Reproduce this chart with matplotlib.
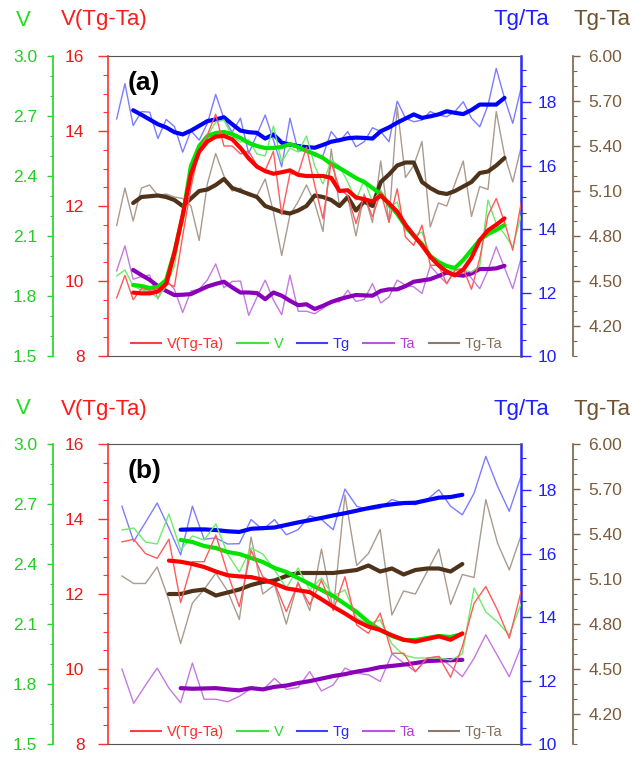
import matplotlib
matplotlib.use("Agg")
import matplotlib.pyplot as plt
from matplotlib.ticker import MultipleLocator, FixedLocator, FormatStrFormatter
import numpy as np

plt.rcParams['font.family'] = ['Liberation Sans', 'DejaVu Sans']

# ---------------- data ----------------
years = list(range(1960, 2010))

tg_thin = [17.47, 18.58, 17.26, 17.70, 17.68, 16.85, 17.45, 17.23, 16.42, 17.10,
           16.80, 17.33, 18.24, 17.48, 17.05, 17.49, 16.38, 16.98, 17.59, 16.80,
           15.96, 17.49, 16.45, 16.49, 16.30, 16.31, 17.07, 16.75, 17.07, 16.59,
           16.75, 17.19, 17.07, 16.75, 18.03, 17.49, 17.38, 17.43, 17.70, 17.59,
           17.54, 17.70, 18.01, 17.49, 17.22, 17.90, 19.06, 18.12, 17.33, 18.43]

ta_thin = [12.68, 13.47, 12.42, 12.50, 12.55, 11.80, 12.40, 12.10, 11.37, 12.05,
           12.10, 12.40, 12.90, 12.15, 12.35, 12.36, 11.28, 11.85, 12.39, 11.76,
           11.30, 12.55, 11.41, 11.41, 11.33, 11.50, 11.75, 11.70, 12.07, 11.72,
           11.78, 12.28, 11.67, 11.86, 12.39, 12.23, 12.18, 11.97, 12.84, 12.55,
           12.28, 12.70, 12.76, 12.45, 12.12, 12.70, 13.44, 12.78, 12.12, 13.07]

dt_thin = [4.87, 5.12, 4.90, 5.12, 5.14, 5.07, 5.08, 5.06, 5.05, 5.00,
           4.77, 5.15, 5.35, 5.20, 5.10, 5.12, 5.07, 5.07, 5.18, 4.96,
           4.67, 4.94, 5.03, 5.14, 5.02, 4.83, 5.38, 5.00, 5.06, 4.80,
           5.08, 4.89, 5.30, 4.89, 5.66, 5.19, 5.27, 5.43, 4.86, 5.02,
           5.00, 5.15, 5.30, 4.93, 5.13, 5.11, 5.63, 5.34, 5.16, 5.39]

vdt_thin = [9.55, 10.15, 9.50, 9.80, 9.75, 9.80, 9.95, 9.85, 11.20, 12.50,
            13.50, 13.90, 14.45, 13.60, 13.60, 13.39, 13.46, 13.08, 12.95, 13.46,
            11.77, 12.86, 12.86, 13.57, 12.55, 11.66, 13.17, 12.46, 12.28, 11.53,
            12.28, 11.71, 12.37, 11.57, 12.46, 11.17, 10.95, 11.49, 10.42, 10.42,
            9.93, 10.29, 10.33, 9.78, 10.60, 11.75, 12.20, 11.57, 10.82, 12.06]

v_thin = [1.90, 1.93, 1.85, 1.83, 1.82, 1.79, 1.85, 1.95, 2.20, 2.45,
          2.55, 2.60, 2.67, 2.68, 2.60, 2.57, 2.58, 2.51, 2.50, 2.65,
          2.47, 2.54, 2.52, 2.60, 2.45, 2.36, 2.48, 2.45, 2.37, 2.28,
          2.38, 2.27, 2.33, 2.24, 2.27, 2.13, 2.10, 2.12, 2.00, 1.945,
          1.93, 1.93, 1.93, 1.92, 1.95, 2.28, 2.16, 2.11, 2.045, 2.20]

# panel (a) smoothed curves, 1962-2007
years_sm_a = list(range(1962, 2008))
vdt_sm_a = [9.69, 9.67, 9.67, 9.72, 9.92, 10.75, 11.75, 12.85, 13.45, 13.72,
            13.85, 13.87, 13.78, 13.55, 13.27, 13.05, 12.93, 12.86, 12.90, 12.95,
            12.83, 12.80, 12.80, 12.80, 12.75, 12.40, 12.42, 12.23, 12.18, 12.12,
            12.28, 12.07, 11.85, 11.50, 11.22, 10.95, 10.65, 10.42, 10.25, 10.15,
            10.30, 10.62, 11.09, 11.35, 11.50, 11.67]
v_sm_a = [1.855, 1.85, 1.84, 1.845, 1.88, 2.02, 2.20, 2.45, 2.55, 2.60,
          2.615, 2.62, 2.61, 2.59, 2.565, 2.55, 2.54, 2.54, 2.545, 2.56,
          2.545, 2.525, 2.51, 2.49, 2.46, 2.44, 2.415, 2.39, 2.37, 2.34,
          2.31, 2.26, 2.21, 2.15, 2.10, 2.06, 2.00, 1.97, 1.95, 1.94,
          1.98, 2.03, 2.08, 2.11, 2.13, 2.155]
tg_sm_a = [17.74, 17.60, 17.45, 17.30, 17.20, 17.05, 16.98, 17.10, 17.25, 17.40,
           17.45, 17.52, 17.30, 17.10, 17.05, 17.03, 16.85, 16.98, 16.72, 16.66,
           16.61, 16.58, 16.56, 16.65, 16.75, 16.80, 16.86, 16.88, 16.87, 16.85,
           17.08, 17.20, 17.35, 17.48, 17.61, 17.50, 17.55, 17.61, 17.71, 17.66,
           17.62, 17.75, 17.92, 17.92, 17.92, 18.13]
ta_sm_a = [12.71, 12.55, 12.40, 12.20, 12.05, 11.92, 11.93, 11.95, 12.07, 12.19,
           12.27, 12.34, 12.16, 12.00, 12.00, 11.98, 11.79, 12.00, 11.90, 11.74,
           11.60, 11.63, 11.48, 11.58, 11.70, 11.79, 11.86, 11.92, 11.91, 11.90,
           12.05, 12.10, 12.10, 12.20, 12.34, 12.38, 12.42, 12.52, 12.63, 12.56,
           12.53, 12.60, 12.74, 12.74, 12.76, 12.84]
dt_sm_a = [5.02, 5.06, 5.065, 5.07, 5.06, 5.04, 5.00, 5.05, 5.10, 5.11,
           5.14, 5.18, 5.12, 5.10, 5.08, 5.06, 5.00, 4.98, 4.96, 4.95,
           4.97, 5.00, 5.07, 5.06, 5.04, 5.00, 5.06, 4.97, 5.03, 5.00,
           5.16, 5.21, 5.27, 5.29, 5.29, 5.16, 5.12, 5.09, 5.08, 5.10,
           5.13, 5.16, 5.22, 5.23, 5.27, 5.32]

# panel (b) smoothed curves: V, Tg, Ta 1980-2004; V(Tg-Ta), Tg-Ta 1979-2004
years_sm_b = list(range(1980, 2005))
years_sm_b_long = list(range(1979, 2005))
vdt_sm_b = [12.89, 12.86, 12.80, 12.72, 12.60, 12.50, 12.47, 12.45, 12.38, 12.28,
            12.15, 12.10, 12.05, 11.86, 11.66, 11.48, 11.28, 11.13, 11.04, 10.90,
            10.78, 10.73, 10.80, 10.87, 10.78, 10.95]
v_sm_b = [2.52, 2.51, 2.49, 2.48, 2.46, 2.45, 2.43, 2.41, 2.38, 2.36,
          2.33, 2.30, 2.27, 2.24, 2.20, 2.16, 2.11, 2.07, 2.04, 2.02,
          2.02, 2.03, 2.04, 2.035, 2.05]
tg_sm_b = [16.75, 16.76, 16.76, 16.74, 16.70, 16.68, 16.78, 16.80, 16.82, 16.90,
           16.98, 17.05, 17.12, 17.20, 17.27, 17.35, 17.43, 17.50, 17.55, 17.59,
           17.60, 17.68, 17.76, 17.78, 17.85]
ta_sm_b = [11.76, 11.74, 11.75, 11.76, 11.72, 11.69, 11.76, 11.72, 11.80, 11.84,
           11.92, 11.98, 12.06, 12.14, 12.20, 12.28, 12.34, 12.42, 12.46, 12.50,
           12.55, 12.61, 12.63, 12.64, 12.65]
dt_sm_b = [5.00, 5.00, 5.02, 5.03, 4.99, 5.01, 5.03, 5.06, 5.08, 5.09, 5.12,
           5.14, 5.14, 5.14, 5.14, 5.15, 5.16, 5.19, 5.15, 5.17, 5.13,
           5.16, 5.17, 5.17, 5.15, 5.20]

xtick_labels_a = ['1960', '1970', '1980', '1990', '2000', '2009']
xtick_labels_b = ['1975', '1980', '1985', '1990', '1995', '2000', '2005', '2009']
legend_labels = ['V(Tg-Ta)', 'V', 'Tg', 'Ta', 'Tg-Ta']

# ---------------- style ----------------
C_RED, C_RED_T = '#ff0000', '#ff5a5a'
C_GRN, C_GRN_T = '#00e400', '#6cec6c'
C_BLU, C_BLU_T = '#0000ff', '#7c7cff'
C_PUR, C_PUR_T = '#8a00b8', '#c47ae0'
C_BRN, C_BRN_T = '#4e3219', '#a99b8e'
C_AX_RED, C_AX_GRN, C_AX_BLU, C_AX_BRN = '#ff3030', '#22d622', '#2a2aff', '#7d6146'

W, H = 634, 776
fig = plt.figure(figsize=(W / 100, H / 100), dpi=100)

PX2PT = 0.72


def frac_rect(x0, y_top, x1, y_bot):
    return [x0 / W, 1 - y_bot / H, (x1 - x0) / W, (y_bot - y_top) / H]


def panel(rect, yrs, first_year, xlim, xticks, xticklabels, ys, sm, label, title_y):
    i0 = yrs.index(first_year)
    xs = yrs[i0:]
    axt = fig.add_axes(rect)            # brown Tg-Ta (far right)
    axb = axt.twinx()                   # blue Tg / Ta
    axg = axt.twinx()                   # green V (far left)
    axr = axt.twinx()                   # red V(Tg-Ta)
    for a in (axt, axb, axg, axr):
        a.set_xlim(*xlim)
        a.patch.set_visible(False)
        for s in a.spines.values():
            s.set_visible(False)

    # thin annual lines
    l_dt, = axt.plot(xs, ys['dt'][i0:], color=C_BRN_T, lw=1.0)
    l_tg, = axb.plot(xs, ys['tg'][i0:], color=C_BLU_T, lw=1.0)
    l_ta, = axb.plot(xs, ys['ta'][i0:], color=C_PUR_T, lw=1.0)
    l_v, = axg.plot(xs, ys['v'][i0:], color=C_GRN_T, lw=1.0)
    l_vdt, = axr.plot(xs, ys['vdt'][i0:], color=C_RED_T, lw=1.0)
    # thick smoothed lines
    axt.plot(sm['years_rb'], sm['dt'], color=C_BRN, lw=3.0, solid_capstyle='round')
    axb.plot(sm['years'], sm['tg'], color=C_BLU, lw=3.0, solid_capstyle='round')
    axb.plot(sm['years'], sm['ta'], color=C_PUR, lw=3.0, solid_capstyle='round')
    axg.plot(sm['years'], sm['v'], color=C_GRN, lw=3.0, solid_capstyle='round')
    axr.plot(sm['years_rb'], sm['vdt'], color=C_RED, lw=3.0, solid_capstyle='round')

    # red axis (left, at frame)
    axr.set_ylim(8, 16)
    axr.yaxis.set_ticks_position('left')
    axr.spines['left'].set_visible(True)
    axr.spines['left'].set_color(C_AX_RED)
    axr.spines['left'].set_linewidth(1.2)
    axr.yaxis.set_major_locator(MultipleLocator(2))
    axr.yaxis.set_minor_locator(MultipleLocator(0.5))
    axr.tick_params(axis='y', which='major', length=7, width=1, color=C_AX_RED,
                    labelcolor='#f01818', labelsize=12.5, pad=10)
    axr.tick_params(axis='y', which='minor', length=3.5, width=0.8, color=C_AX_RED)

    # green axis (left, offset)
    axg.set_ylim(1.5, 3.0)
    axg.yaxis.set_ticks_position('left')
    axg.spines['left'].set_visible(True)
    axg.spines['left'].set_position(('outward', 55 * PX2PT))
    axg.spines['left'].set_color(C_AX_GRN)
    axg.spines['left'].set_linewidth(1.2)
    axg.yaxis.set_major_locator(FixedLocator([1.5, 1.8, 2.1, 2.4, 2.7, 3.0]))
    axg.yaxis.set_minor_locator(MultipleLocator(0.1))
    axg.yaxis.set_major_formatter(FormatStrFormatter('%.1f'))
    axg.tick_params(axis='y', which='major', length=4.5, width=1, color=C_AX_GRN,
                    labelcolor='#20d020', labelsize=12.5, pad=7)
    axg.tick_params(axis='y', which='minor', length=2.5, width=0.8, color=C_AX_GRN)

    # blue axis (right, at frame)
    axb.set_ylim(10, 19.45)
    axb.yaxis.set_ticks_position('right')
    axb.spines['right'].set_visible(True)
    axb.spines['right'].set_color(C_AX_BLU)
    axb.spines['right'].set_linewidth(1.8)
    axb.yaxis.set_major_locator(MultipleLocator(2))
    axb.yaxis.set_minor_locator(MultipleLocator(0.5))
    axb.tick_params(axis='y', which='major', length=7, width=1, color=C_AX_BLU,
                    labelcolor='#2020ff', labelsize=12.5, pad=5)
    axb.tick_params(axis='y', which='minor', length=3.5, width=0.8, color=C_AX_BLU)

    # brown axis (right, offset)
    axt.set_ylim(4.0, 6.0)
    axt.yaxis.set_ticks_position('right')
    axt.spines['right'].set_visible(True)
    axt.spines['right'].set_position(('outward', 52 * PX2PT))
    axt.spines['right'].set_color(C_AX_BRN)
    axt.spines['right'].set_linewidth(1.2)
    axt.yaxis.set_major_locator(FixedLocator([4.2, 4.5, 4.8, 5.1, 5.4, 5.7, 6.0]))
    axt.yaxis.set_minor_locator(MultipleLocator(0.1))
    axt.yaxis.set_major_formatter(FormatStrFormatter('%.2f'))
    axt.tick_params(axis='y', which='major', length=5, width=1, color=C_AX_BRN,
                    labelcolor='#7a5c3c', labelsize=12.5, pad=6)
    axt.tick_params(axis='y', which='minor', length=3, width=0.8, color=C_AX_BRN)

    # x axis: top and bottom frame with ticks
    axr.spines['top'].set_visible(True)
    axr.spines['bottom'].set_visible(True)
    axr.spines['top'].set_color('#555555')
    axr.spines['bottom'].set_color('#555555')
    for a in (axt, axb, axg, axr):
        a.set_xticks(xticks)
        a.tick_params(axis='x', which='both', length=0, labelbottom=False)
    axr.tick_params(axis='x', which='major', top=True, bottom=True, direction='out',
                    length=6, width=1.2, color='black', labelbottom=True,
                    labelsize=13, pad=8)
    axr.set_xticklabels(xticklabels)
    axr.xaxis.set_minor_locator(FixedLocator([]))

    axr.text(0.048, 0.91, label, transform=axr.transAxes, fontsize=19,
             fontweight='bold', ha='left', va='center', color='black')

    leg = axr.legend([l_vdt, l_v, l_tg, l_ta, l_dt], legend_labels, ncol=5,
                     loc='center', bbox_to_anchor=(0.505, 0.04), frameon=False,
                     fontsize=10.5, handlelength=2.1, handletextpad=0.4,
                     columnspacing=0.9, borderaxespad=0)
    for txt, col in zip(leg.get_texts(), ['#ff2a2a', '#22dd22', '#2a2aff', '#b040d0', '#85705c']):
        txt.set_color(col)
    for h, col in zip(leg.get_lines(), ['#ff4040', '#44e044', '#4040ff', '#bb55dd', '#8c7b6c']):
        h.set_color(col)
        h.set_linewidth(1.5)

    ty = 1 - title_y / H
    fig.text(23 / W, ty, 'V', color='#22dd22', fontsize=16, ha='center', va='center')
    fig.text(61 / W, ty, 'V(Tg-Ta)', color='#ff1a1a', fontsize=16, ha='left', va='center')
    fig.text(494 / W, ty, 'Tg/Ta', color='#2020ff', fontsize=16, ha='left', va='center')
    fig.text(573 / W, ty, 'Tg-Ta', color='#6e5230', fontsize=16, ha='left', va='center')


ys = {'tg': tg_thin, 'ta': ta_thin, 'dt': dt_thin, 'vdt': vdt_thin, 'v': v_thin}
sm_a = {'years': years_sm_a, 'years_rb': years_sm_a, 'tg': tg_sm_a, 'ta': ta_sm_a,
        'dt': dt_sm_a, 'vdt': vdt_sm_a, 'v': v_sm_a}
sm_b = {'years': years_sm_b, 'years_rb': years_sm_b_long, 'tg': tg_sm_b, 'ta': ta_sm_b,
        'dt': dt_sm_b, 'vdt': vdt_sm_b, 'v': v_sm_b}

panel(frac_rect(108, 56, 521, 356), years, 1960, (1958.95, 2009),
      np.linspace(1960, 2009, len(xtick_labels_a)), xtick_labels_a, ys, sm_a, '(a)', 20)
panel(frac_rect(108, 444, 521, 744), years, 1975, (1973.81, 2009),
      np.linspace(1975, 2009, len(xtick_labels_b)), xtick_labels_b, ys, sm_b, '(b)', 409)

fig.savefig('out.png', dpi=100, facecolor='white')
